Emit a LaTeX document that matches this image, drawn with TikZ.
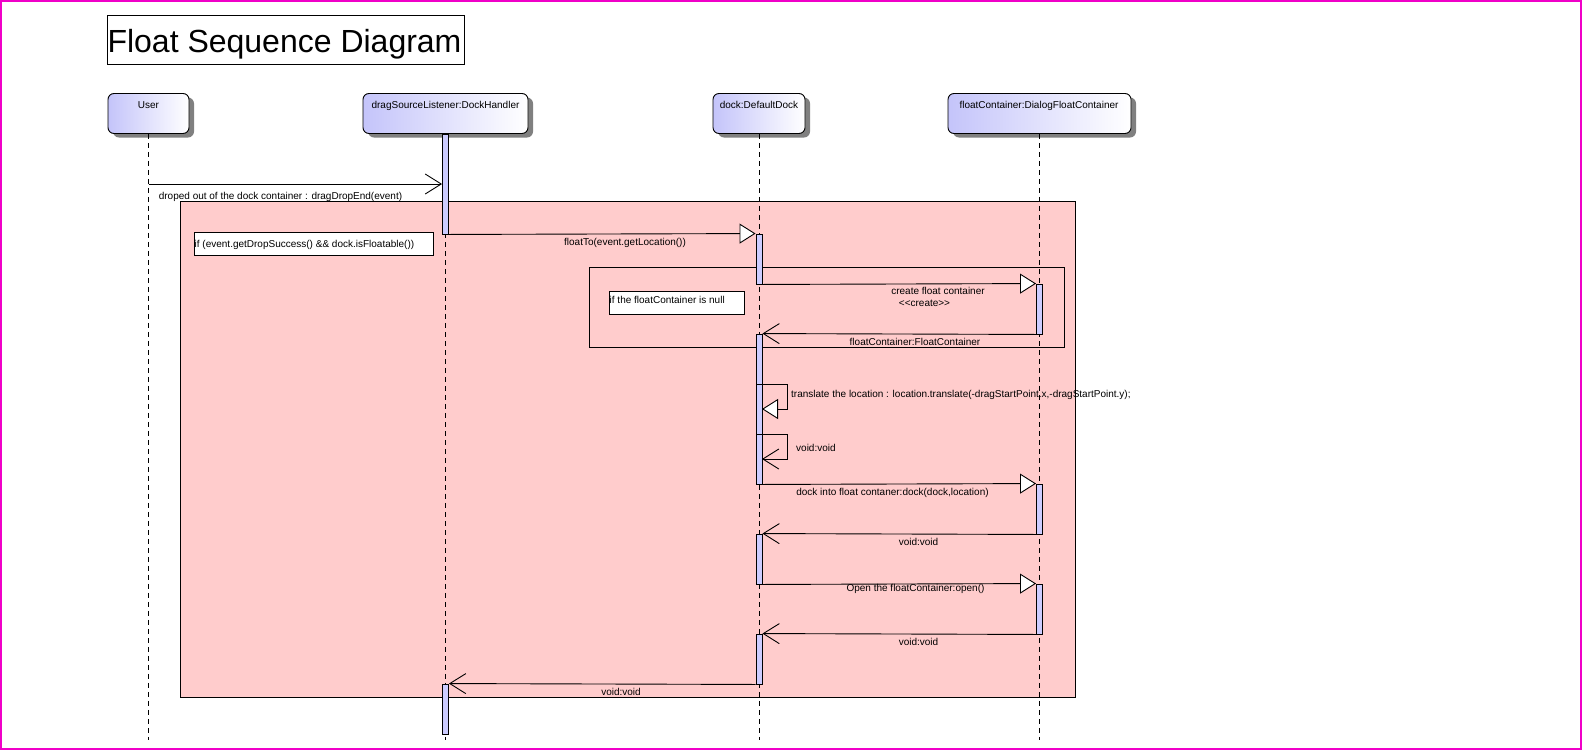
\documentclass[tikz,border=0pt]{standalone}
\usepackage{fontspec}
\setmainfont{Liberation Sans}
\usetikzlibrary{arrows.meta,shadows}
\definecolor{pinkfrag}{RGB}{255,204,204}
\definecolor{barcol}{RGB}{204,204,255}
\definecolor{hdrcol}{RGB}{196,196,250}
\definecolor{bordercol}{RGB}{240,0,200}
\begin{document}
\begin{tikzpicture}[x=1pt,y=-1pt,
  every node/.style={font=\fontsize{10}{12}\selectfont},
  hdr/.style={draw, line width=0.9pt, rounded corners=6pt, left color=hdrcol, right color=white,
    minimum height=40pt, inner sep=0pt,
    drop shadow={shadow xshift=5pt, shadow yshift=-4pt, fill=black!50, opacity=1}},
  lifeline/.style={draw, line width=0.8pt, dash pattern=on 5pt off 4pt},
  actbar/.style={draw, line width=0.9pt, fill=barcol, minimum width=6pt, inner sep=0pt},
  msg/.style={draw, line width=0.9pt, -{Triangle[length=16pt,width=20pt,fill=white]}},
  ret/.style={draw, line width=0.9pt, -{Straight Barb[length=16pt,width=20pt]}},
  frag/.style={draw, line width=0.9pt, fill=pinkfrag},
  note/.style={draw, line width=0.9pt, fill=white, inner sep=0pt, anchor=north west},
  lbl/.style={anchor=base, inner sep=0pt},
  lblw/.style={anchor=base west, inner sep=0pt}]
\useasboundingbox (0,0) rectangle (1582,750);
\fill[white] (0,0) rectangle (1582,750);
\draw[bordercol, line width=2pt] (1,1) rectangle (1581,749);

% title
\node[draw, line width=0.9pt, minimum width=357pt, minimum height=49pt, inner sep=0pt, anchor=north west] (titlebox) at (107,15) {};
\node[lbl, font=\fontsize{32}{36}\selectfont] (title) at (284.5,52) {Float Sequence Diagram};

% combined fragments
\draw[frag] (180,201) rectangle (1075,697);
\draw[frag] (589,267) rectangle (1064,347);

% headers
\node[hdr, minimum width=81pt] (user) at (148.5,113.5) {};
\node[hdr, minimum width=165pt] (dh) at (445.5,113.5) {};
\node[hdr, minimum width=92pt] (dock) at (759,113.5) {};
\node[hdr, minimum width=183pt] (fc) at (1039.5,113.5) {};
\node[lbl] (userlbl) at (148.5,108) {User};
\node[lbl] (dhlbl) at (445.5,108) {dragSourceListener:DockHandler};
\node[lbl] (docklbl) at (759,108) {dock:DefaultDock};
\node[lbl] (fclbl) at (1039,108) {floatContainer:DialogFloatContainer};

% lifelines
\coordinate (userend) at (148.5,740);
\coordinate (dhend) at (445.5,740);
\coordinate (dockend) at (759,740);
\coordinate (fcend) at (1039.5,740);
\draw[lifeline] (user.south) -- (userend);
\draw[lifeline] (dh.south) -- (dhend);
\draw[lifeline] (dock.south) -- (dockend);
\draw[lifeline] (fc.south) -- (fcend);

% notes
\node[note, minimum width=239pt, minimum height=23pt] (note1) at (194,232) {};
\node[lblw] (note1txt) at (194.5,247) {if (event.getDropSuccess() \&\& dock.isFloatable())};
\node[note, minimum width=135pt, minimum height=23pt] (note2) at (609,291) {};
\node[lblw] (note2txt) at (609.5,303) {if the floatContainer is null};

% activation bars
\node[actbar, minimum height=100pt] (dh1) at (445.5,184) {};
\node[actbar, minimum height=50pt] (dh2) at (445.5,709) {};
\node[actbar, minimum height=50pt] (dk1) at (759,259) {};
\node[actbar, minimum height=150pt] (dk2) at (759,409) {};
\node[actbar, minimum height=50pt] (dk3) at (759,559) {};
\node[actbar, minimum height=50pt] (dk4) at (759,659) {};
\node[actbar, minimum height=50pt] (fc1) at (1039.5,309) {};
\node[actbar, minimum height=50pt] (fc2) at (1039.5,509) {};
\node[actbar, minimum height=50pt] (fc3) at (1039.5,609) {};

% messages
\coordinate (u1) at (148.5,184);
\draw[ret] (u1) -- (dh1.west);
\node[lbl] (m1) at (280.5,199) {droped out of the dock container : dragDropEnd(event)};

\draw[msg] (dh1.south east) -- (dk1.north west);
\node[lbl] (m2) at (625,245) {floatTo(event.getLocation())};

\draw[msg] (dk1.south east) -- (fc1.north west);
\node[lbl] (m3a) at (938,294) {create float container};
\node[lbl] (m3b) at (924.5,306) {<\kern0pt<create>\kern0pt>};

\draw[ret] (fc1.south west) -- (dk2.north east);
\node[lbl] (m4) at (915,345) {floatContainer:FloatContainer};

\coordinate (sa1) at (756,384);
\coordinate (sb1) at (787,384);
\coordinate (sc1) at (787,409);
\coordinate (sd1) at (762,409);
\draw[msg] (sa1) -- (sb1) -- (sc1) -- (sd1);
\node[lblw] (s1) at (791,397) {translate the location : location.translate(-dragStartPoint.x,-dragStartPoint.y);};

\coordinate (sa2) at (756,434);
\coordinate (sb2) at (787,434);
\coordinate (sc2) at (787,459);
\coordinate (sd2) at (762,459);
\draw[ret] (sa2) -- (sb2) -- (sc2) -- (sd2);
\node[lblw] (s2) at (796,451) {void:void};

\draw[msg] (dk2.south east) -- (fc2.north west);
\node[lbl] (m5) at (892.5,495) {dock into float contaner:dock(dock,location)};

\draw[ret] (fc2.south west) -- (dk3.north east);
\node[lbl] (r2) at (918.5,545) {void:void};

\draw[msg] (dk3.south east) -- (fc3.north west);
\node[lbl] (m6) at (915.5,591) {Open the floatContainer:open()};

\draw[ret] (fc3.south west) -- (dk4.north east);
\node[lbl] (r3) at (918.5,645) {void:void};

\draw[ret] (dk4.south west) -- (dh2.north east);
\node[lbl] (r4) at (621,695) {void:void};
\end{tikzpicture}
\end{document}
